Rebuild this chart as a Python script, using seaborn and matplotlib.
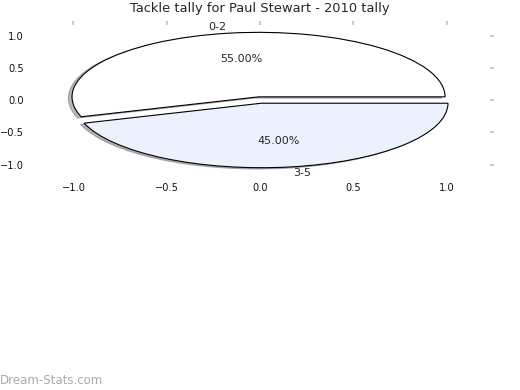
import matplotlib
matplotlib.use('Agg')
import matplotlib.pyplot as plt
import seaborn as sns

# tackle tally data
labels = ['0-2', '3-5']
shares = [55.0, 45.0]
colors = ['#ffffff', '#ebf1fd']
explode = [0.05, 0.05]

sns.set_style('white')
plt.rcParams['font.family'] = ['DejaVu Sans']

fig = plt.figure(figsize=(5.2, 3.9), dpi=100)
ax = fig.add_axes([0.057, 0.550, 0.886, 0.387])

ax.pie(shares, labels=labels, colors=colors, explode=explode,
       autopct='%.2f%%', startangle=0, frame=True,
       shadow={'ox': -0.014, 'oy': -0.014, 'shade': 0.55},
       wedgeprops={'edgecolor': 'black', 'linewidth': 0.8},
       textprops={'fontsize': 8})

ax.set_aspect('auto')
ax.set_xlim(-1.235, 1.235)
ax.set_ylim(-1.17, 1.17)
ax.set_xticks([-1.0, -0.5, 0.0, 0.5, 1.0])
ax.set_yticks([-1.0, -0.5, 0.0, 0.5, 1.0])
for s in ax.spines.values():
    s.set_visible(False)
ax.tick_params(axis='both', which='both', direction='out', length=2.8, width=1.1,
               color='#bbbbbb', labelsize=7.1, top=True, right=True,
               labeltop=False, labelright=False, pad=2.5, labelcolor='#111111')
ax.tick_params(axis='y', pad=1.5)

ax.set_title('Tackle tally for Paul Stewart - 2010 tally', fontsize=9.4, pad=9)

fig.text(0.0, 0.015, 'Dream-Stats.com', fontsize=8.5, color='#aaaaaa')

fig.savefig('out.png', dpi=100)
